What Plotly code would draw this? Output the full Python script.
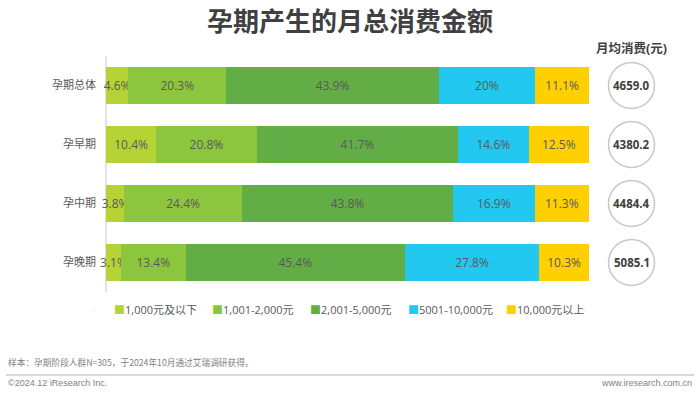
import plotly.graph_objects as go

# ---- data ----
categories = ["孕期总体", "孕早期", "孕中期", "孕晚期"]
series_names = ["1,000元及以下", "1,001-2,000元", "2,001-5,000元", "5001-10,000元", "10,000元以上"]
s1 = [4.6, 10.4, 3.8, 3.1]
s2 = [20.3, 20.8, 24.4, 13.4]
s3 = [43.9, 41.7, 43.8, 45.4]
s4 = [20.0, 14.6, 16.9, 27.8]
s5 = [11.1, 12.5, 11.3, 10.3]
monthly_avg = [4659.0, 4380.2, 4484.4, 5085.1]

colors = ["#b5d334", "#8cc63f", "#63ad46", "#22c8f0", "#ffd000"]

W, H = 700, 394
L, R, T, B = 99, 111, 56, 102
PW = W - L - R
PH = H - T - B
X_MIN = -1.45  # a little room left of zero so narrow-bar labels are not clipped

def px_x(px):
    return (px - L) / PW

def px_y(py):
    return (H - B - py) / PH

FONT = "Open Sans, Noto Sans CJK SC, sans-serif"
TXT = "#595959"

fig = go.Figure()
for name, vals, c in zip(series_names, [s1, s2, s3, s4, s5], colors):
    fig.add_trace(go.Bar(
        y=categories, x=vals, name=name, orientation="h",
        marker=dict(color=c, line=dict(width=0)),
        text=[f"{v:g}%" for v in vals],
        textposition="inside", insidetextanchor="middle",
        constraintext="none", textangle=0,
        textfont=dict(color=TXT, size=12, family=FONT),
        hoverinfo="skip", showlegend=False,
    ))

# legend entries (dummy traces so the square sits close to its label)
for name, c in zip(series_names, colors):
    fig.add_trace(go.Scatter(
        x=[None], y=[None], mode="markers",
        marker=dict(color=c, size=1, opacity=0),
        name=f"<span style='color:{c}'>■</span>{name}",
        showlegend=True, hoverinfo="skip",
    ))
# spacer entry so the last label is not cut by the legend's width
fig.add_trace(go.Scatter(
    x=[None], y=[None], mode="markers", marker=dict(size=1, opacity=0),
    name=" ", showlegend=True, hoverinfo="skip",
))

shapes = []
annotations = []
for cat, v in zip(categories, monthly_avg):
    shapes.append(dict(
        type="circle", xref="paper", yref="y",
        xsizemode="pixel", ysizemode="pixel",
        xanchor=px_x(631.5), yanchor=cat,
        x0=-23, x1=23, y0=-23, y1=23,
        line=dict(color="#c8c8c8", width=1.5), fillcolor="white", layer="above",
    ))
    annotations.append(dict(
        xref="paper", yref="y", x=px_x(631.5), y=cat,
        xanchor="center", yanchor="middle",
        text=f"<b>{v:.1f}</b>", showarrow=False,
        font=dict(size=11.5, color="#404040", family=FONT),
    ))

annotations.append(dict(
    xref="paper", yref="paper", x=px_x(631.5), y=px_y(48),
    xanchor="center", yanchor="middle",
    text="<b>月均消费(元)</b>", showarrow=False,
    font=dict(size=12.5, color="#404040", family=FONT),
))
annotations.append(dict(
    xref="paper", yref="paper", x=px_x(6), y=px_y(362), xanchor="left", yanchor="middle",
    text="样本：孕期阶段人群N=305，于2024年10月通过艾瑞调研获得。", showarrow=False,
    font=dict(size=8.7, color="#7f7f7f", family="Noto Sans CJK SC, sans-serif"),
))
annotations.append(dict(
    xref="paper", yref="paper", x=px_x(6), y=px_y(383), xanchor="left", yanchor="middle",
    text="©2024.12 iResearch Inc.", showarrow=False,
    font=dict(size=9, color="#7f7f7f", family="Liberation Sans, Arial, sans-serif"),
))
annotations.append(dict(
    xref="paper", yref="paper", x=px_x(694), y=px_y(383), xanchor="right", yanchor="middle",
    text="www.iresearch.com.cn", showarrow=False,
    font=dict(size=9, color="#7f7f7f", family="Liberation Sans, Arial, sans-serif"),
))
shapes.append(dict(
    type="line", xref="paper", yref="paper",
    x0=px_x(6), x1=px_x(694), y0=px_y(375), y1=px_y(375),
    line=dict(color="#d9d9d9", width=2),
))

fig.update_layout(
    width=W, height=H,
    margin=dict(l=L, r=R, t=T, b=B, autoexpand=False),
    paper_bgcolor="white", plot_bgcolor="white",
    barmode="stack", barnorm="percent", bargap=0.37,
    title=dict(text="<b>孕期产生的月总消费金额</b>", x=0.5, xref="container",
               y=1 - 22 / H, yref="container", xanchor="center", yanchor="middle",
               font=dict(size=26, color="#404040", family=FONT)),
    xaxis=dict(range=[X_MIN, 100], showticklabels=False, showgrid=False, showline=False,
               ticks="", zeroline=True, zerolinecolor="#e3e3e3", zerolinewidth=2,
               fixedrange=True),
    yaxis=dict(autorange="reversed", showline=False,
               showgrid=False, zeroline=False, ticks="", ticklabelstandoff=2,
               fixedrange=True,
               tickfont=dict(size=11, color=TXT, family=FONT)),
    uniformtext=dict(minsize=12, mode="show"),
    legend=dict(orientation="h", x=px_x(114 - 40), xanchor="left",
                y=px_y(310), yanchor="middle", itemwidth=30, traceorder="normal",
                entrywidth=53, entrywidthmode="pixels",
                font=dict(size=11, color=TXT, family=FONT),
                bgcolor="rgba(0,0,0,0)"),
    shapes=shapes, annotations=annotations,
    font=dict(family=FONT),
)

fig.write_html("out.html", config={"displayModeBar": False},
               post_script="document.body.style.margin='0';document.body.style.overflow='hidden';")
